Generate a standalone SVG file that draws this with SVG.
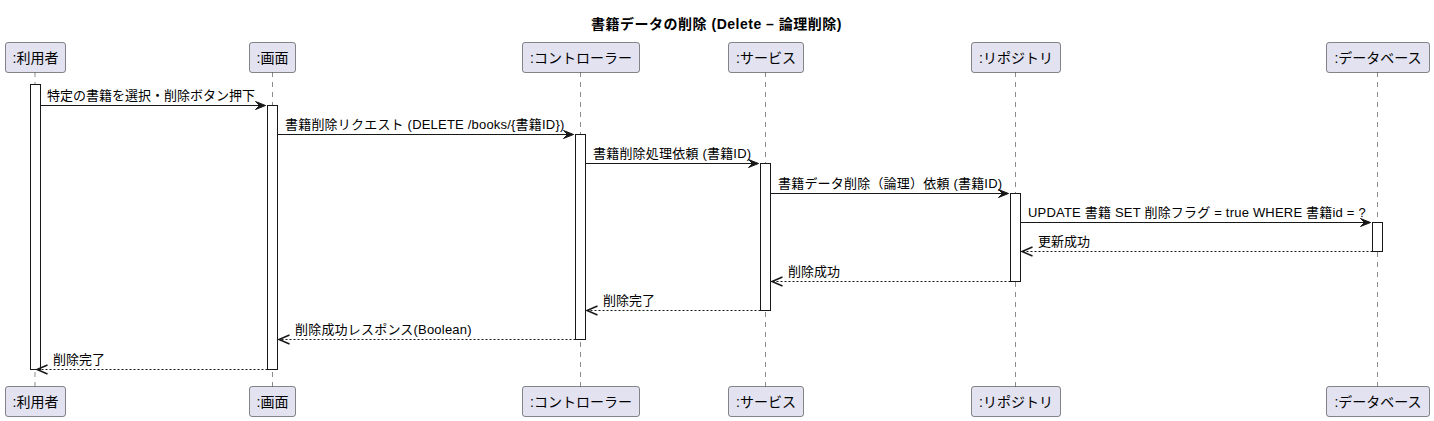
<svg xmlns="http://www.w3.org/2000/svg" width="1434" height="421" viewBox="0 0 1434 421">
<defs>
<style>
text{font-family:"Liberation Sans","Noto Sans CJK JP",sans-serif;fill:#000}
.title{font-size:14px;font-weight:bold;letter-spacing:0.5px}
.pl{font-size:14px}
.msg{font-size:13px;letter-spacing:0.2px}
.cjk{letter-spacing:0}
.pbox{fill:#E2E2F0;stroke:#181818;stroke-width:0.5}
.life{stroke:#181818;stroke-width:0.5;stroke-dasharray:5,5;fill:none}
.act{fill:#FFFFFF;stroke:#181818;stroke-width:1}
.sync{stroke:#181818;stroke-width:1;fill:none}
.ret{stroke:#181818;stroke-width:1;stroke-dasharray:2,2;fill:none}
.head{fill:#181818;stroke:#181818;stroke-width:1}
.open{fill:none;stroke:#181818;stroke-width:1.5}
</style>
</defs>
<rect width="1434" height="421" fill="#FFFFFF"/>
<text class="title" x="716.5" y="29" text-anchor="middle">書籍データの削除 (Delete – 論理削除)</text>

<g id="lifelines">
<line class="life" x1="35" y1="72" x2="35" y2="387"/>
<line class="life" x1="272.5" y1="72" x2="272.5" y2="387"/>
<line class="life" x1="580.5" y1="72" x2="580.5" y2="387"/>
<line class="life" x1="765.5" y1="72" x2="765.5" y2="387"/>
<line class="life" x1="1015.5" y1="72" x2="1015.5" y2="387"/>
<line class="life" x1="1377.5" y1="72" x2="1377.5" y2="387"/>
</g>

<g id="p-user">
<rect class="pbox" x="5.5" y="42.5" width="60" height="30" rx="2.5"/>
<text class="pl" x="35.5" y="62.5" text-anchor="middle">:利用者</text>
<rect class="pbox" x="5.5" y="386.5" width="60" height="30" rx="2.5"/>
<text class="pl" x="35.5" y="406.5" text-anchor="middle">:利用者</text>
</g>
<g id="p-screen">
<rect class="pbox" x="249.5" y="42.5" width="46" height="30" rx="2.5"/>
<text class="pl" x="272.5" y="62.5" text-anchor="middle">:画面</text>
<rect class="pbox" x="249.5" y="386.5" width="46" height="30" rx="2.5"/>
<text class="pl" x="272.5" y="406.5" text-anchor="middle">:画面</text>
</g>
<g id="p-controller">
<rect class="pbox" x="522.5" y="42.5" width="117" height="30" rx="2.5"/>
<text class="pl" x="581" y="62.5" text-anchor="middle">:コントローラー</text>
<rect class="pbox" x="522.5" y="386.5" width="117" height="30" rx="2.5"/>
<text class="pl" x="581" y="406.5" text-anchor="middle">:コントローラー</text>
</g>
<g id="p-service">
<rect class="pbox" x="728.5" y="42.5" width="75" height="30" rx="2.5"/>
<text class="pl" x="766" y="62.5" text-anchor="middle">:サービス</text>
<rect class="pbox" x="728.5" y="386.5" width="75" height="30" rx="2.5"/>
<text class="pl" x="766" y="406.5" text-anchor="middle">:サービス</text>
</g>
<g id="p-repository">
<rect class="pbox" x="971.5" y="42.5" width="89" height="30" rx="2.5"/>
<text class="pl" x="1016" y="62.5" text-anchor="middle">:リポジトリ</text>
<rect class="pbox" x="971.5" y="386.5" width="89" height="30" rx="2.5"/>
<text class="pl" x="1016" y="406.5" text-anchor="middle">:リポジトリ</text>
</g>
<g id="p-database">
<rect class="pbox" x="1326.5" y="42.5" width="103" height="30" rx="2.5"/>
<text class="pl" x="1378" y="62.5" text-anchor="middle">:データベース</text>
<rect class="pbox" x="1326.5" y="386.5" width="103" height="30" rx="2.5"/>
<text class="pl" x="1378" y="406.5" text-anchor="middle">:データベース</text>
</g>

<g id="activations">
<rect class="act" x="30.5" y="84.5" width="10" height="285"/>
<rect class="act" x="267.5" y="105.5" width="10" height="264"/>
<rect class="act" x="575.5" y="134.5" width="10" height="205"/>
<rect class="act" x="760.5" y="163.5" width="10" height="147"/>
<rect class="act" x="1010.5" y="193.5" width="10" height="88"/>
<rect class="act" x="1372.5" y="222.5" width="10" height="29"/>
</g>

<g id="connectors">
<line class="sync" x1="40.5" y1="105.5" x2="265.5" y2="105.5"/>
<polygon class="head" points="255.5,101.5 265.5,105.5 255.5,109.5 259.5,105.5"/>
<text class="msg cjk" x="47" y="100">特定の書籍を選択・削除ボタン押下</text>

<line class="sync" x1="277.5" y1="134.5" x2="573.5" y2="134.5"/>
<polygon class="head" points="563.5,130.5 573.5,134.5 563.5,138.5 567.5,134.5"/>
<text class="msg" x="285" y="129">書籍削除リクエスト (DELETE /books/{書籍ID})</text>

<line class="sync" x1="585.5" y1="163.5" x2="758.5" y2="163.5"/>
<polygon class="head" points="748.5,159.5 758.5,163.5 748.5,167.5 752.5,163.5"/>
<text class="msg" x="593" y="158">書籍削除処理依頼 (書籍ID)</text>

<line class="sync" x1="770.5" y1="193.5" x2="1008.5" y2="193.5"/>
<polygon class="head" points="998.5,189.5 1008.5,193.5 998.5,197.5 1002.5,193.5"/>
<text class="msg" x="778" y="188">書籍データ削除（論理）依頼 (書籍ID)</text>

<line class="sync" x1="1020.5" y1="222.5" x2="1370.5" y2="222.5"/>
<polygon class="head" points="1360.5,218.5 1370.5,222.5 1360.5,226.5 1364.5,222.5"/>
<text class="msg" x="1028" y="217">UPDATE 書籍 SET 削除フラグ = true WHERE 書籍id = ?</text>

<line class="ret" x1="1372.5" y1="251.5" x2="1022.5" y2="251.5"/>
<polyline class="open" points="1032.5,247 1022,251.5 1032.5,256"/>
<text class="msg cjk" x="1038" y="246">更新成功</text>

<line class="ret" x1="1010.5" y1="281.5" x2="772.5" y2="281.5"/>
<polyline class="open" points="782.5,277 772,281.5 782.5,286"/>
<text class="msg cjk" x="788" y="276">削除成功</text>

<line class="ret" x1="760.5" y1="310.5" x2="587.5" y2="310.5"/>
<polyline class="open" points="597.5,306 587,310.5 597.5,315"/>
<text class="msg cjk" x="603" y="305">削除完了</text>

<line class="ret" x1="575.5" y1="339.5" x2="279.5" y2="339.5"/>
<polyline class="open" points="289.5,335 279,339.5 289.5,344"/>
<text class="msg" x="295" y="334">削除成功レスポンス(Boolean)</text>

<line class="ret" x1="267.5" y1="369.5" x2="37.5" y2="369.5"/>
<polyline class="open" points="47.5,365 37,369.5 47.5,374"/>
<text class="msg cjk" x="53" y="364">削除完了</text>
</g>
</svg>
